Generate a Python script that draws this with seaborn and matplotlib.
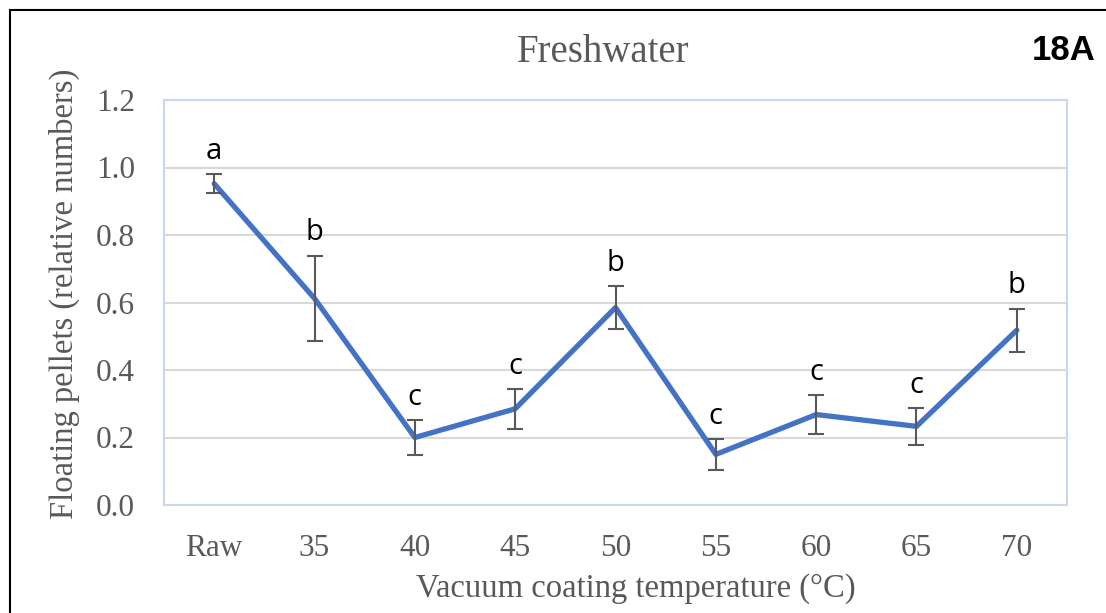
import numpy as np
import pandas as pd
import matplotlib
matplotlib.use("Agg")
import matplotlib.pyplot as plt
import seaborn as sns
from matplotlib.patches import Rectangle

# values
categories = ["Raw", "35", "40", "45", "50", "55", "60", "65", "70"]
means = [0.952, 0.612, 0.200, 0.285, 0.585, 0.150, 0.268, 0.233, 0.518]
errors = [0.028, 0.127, 0.052, 0.059, 0.063, 0.046, 0.058, 0.055, 0.064]
letters = ["a", "b", "c", "c", "b", "c", "c", "c", "b"]
yticks = [0.0, 0.2, 0.4, 0.6, 0.8, 1.0, 1.2]

df = pd.DataFrame({"temp": categories, "floating": means, "err": errors})

sns.set_theme(style="white")
plt.rcParams["font.family"] = ["Liberation Serif", "DejaVu Serif"]

gray = "#595959"
blue = "#4472C4"

fig = plt.figure(figsize=(11.06, 6.13), dpi=100)
ax = fig.add_axes([164 / 1106, 1 - 505 / 613, (1067 - 164) / 1106, (505 - 100) / 613])

ax.yaxis.grid(True, color="#D9D9D9", lw=1.5, zorder=0)
ax.xaxis.grid(False)

sns.lineplot(data=df, x="temp", y="floating", color=blue, lw=3.8,
             sort=False, ax=ax, zorder=3)
ax.errorbar(df["temp"], df["floating"], yerr=df["err"], fmt="none",
            ecolor=gray, elinewidth=1.5, capsize=5.5, capthick=1.5, zorder=4)

for i, (m, e, l) in enumerate(zip(means, errors, letters)):
    ax.annotate(l, (i, m + e), xytext=(0, 11), textcoords="offset points",
                ha="center", va="baseline", fontsize=21,
                family=["Open Sans", "DejaVu Sans"], color="black")

ax.set_xlim(-0.5, len(categories) - 0.5)
ax.set_ylim(0, 1.2)
ax.set_yticks(yticks)
ax.set_yticklabels([f"{t:.1f}" for t in yticks])
ax.tick_params(axis="both", length=0, labelsize=22.5, labelcolor=gray)
ax.tick_params(axis="y", pad=21)
ax.tick_params(axis="x", pad=21)

for s in ax.spines.values():
    s.set_visible(True)
    s.set_color("#C9D7F0")
    s.set_linewidth(1.5)

ax.set_xlabel("Vacuum coating temperature (°C)", fontsize=23.5, color=gray)
ax.set_ylabel("Floating pellets (relative numbers)", fontsize=23.5, color=gray)
ax.xaxis.set_label_coords(0.522, -0.168)
ax.yaxis.set_label_coords(-0.093, 0.522)

fig.text(603 / 1106, 1 - 52 / 613, "Freshwater", ha="center", va="center",
         fontsize=28, color=gray)
fig.text(1064 / 1106, 1 - 50 / 613, "18A", ha="center", va="center",
         fontsize=25, fontweight="bold", family=["Liberation Sans", "DejaVu Sans"],
         color="black")

# outer frame of the figure (left and top edges visible)
fig.patches.append(Rectangle((10 / 1106, -0.2), 2, 1.2 - 10 / 613,
                             transform=fig.transFigure, fill=False,
                             edgecolor="black", lw=1.5))

fig.savefig("out.png", dpi=100)
